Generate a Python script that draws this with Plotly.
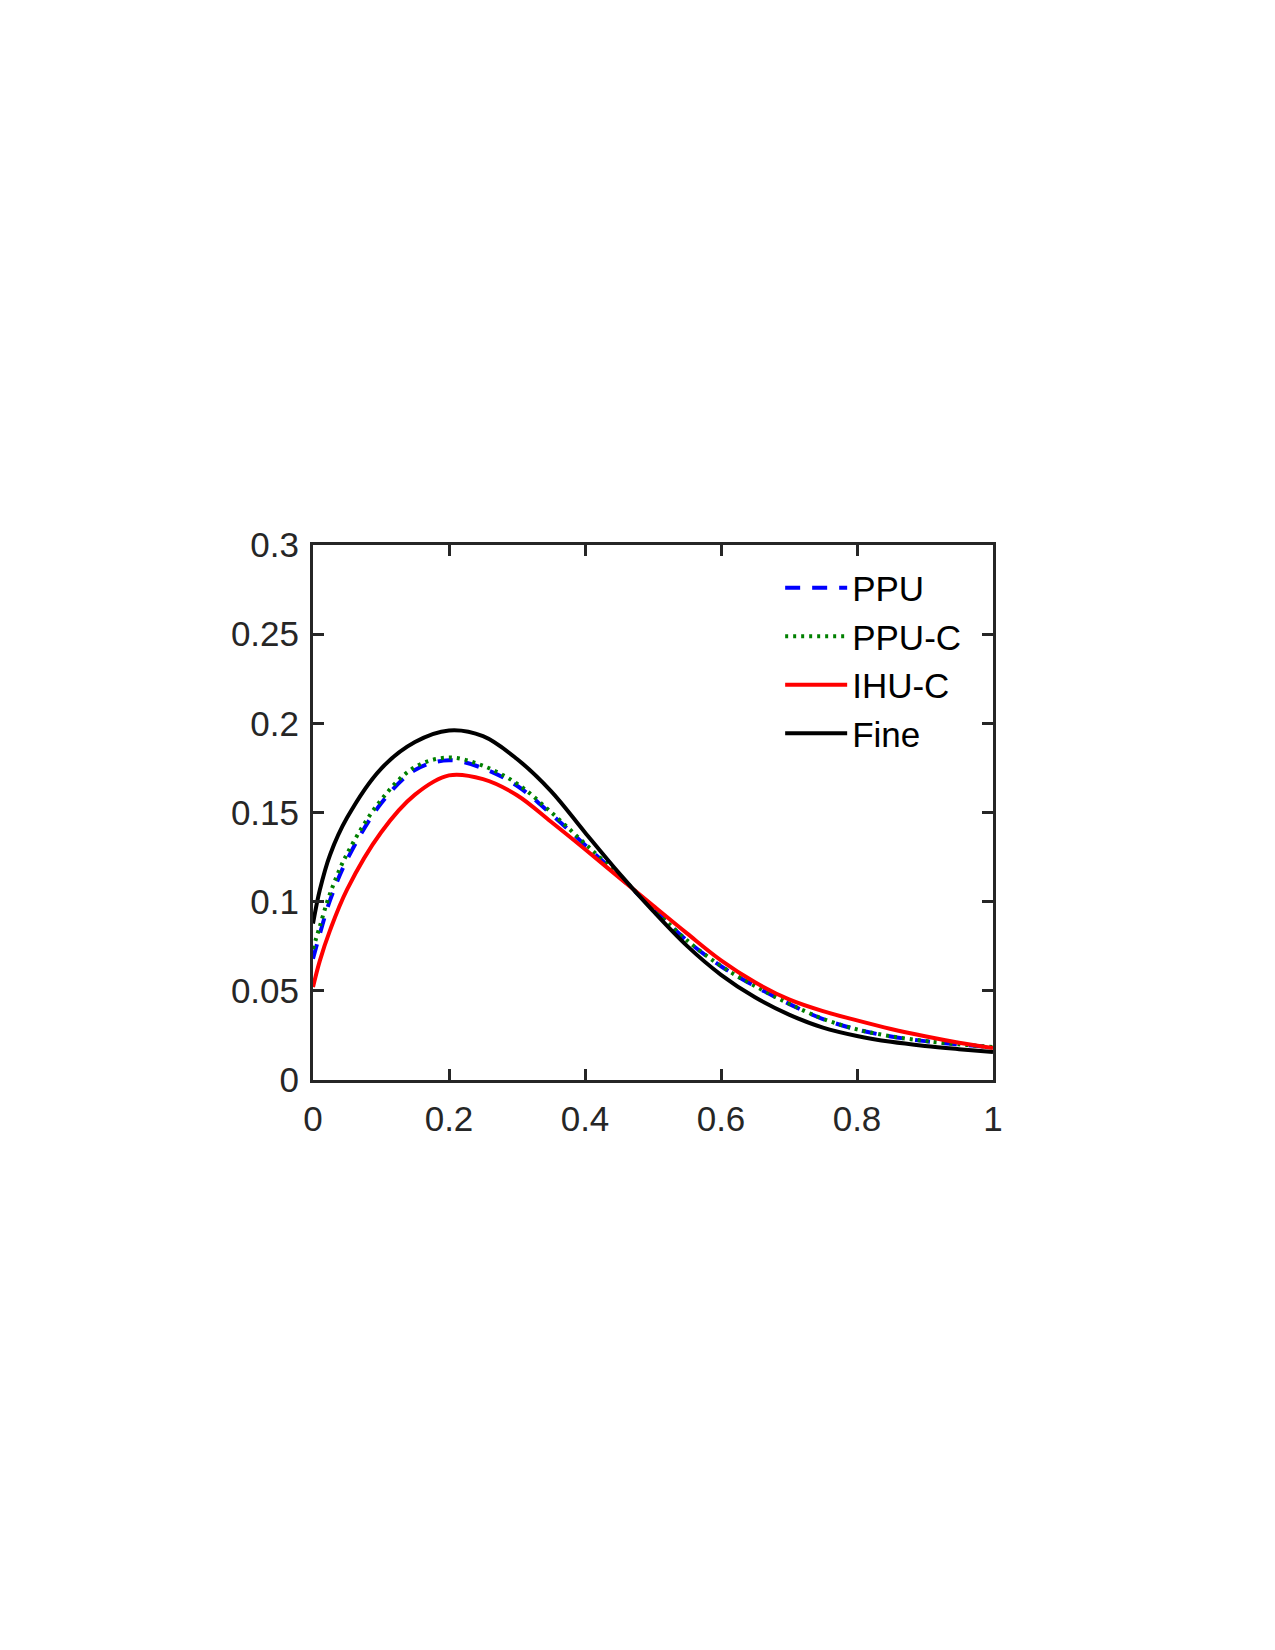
import plotly.graph_objects as go

x_vals = [0, 0.01, 0.025, 0.05, 0.1, 0.15, 0.2, 0.25, 0.3, 0.35, 0.4, 0.45, 0.5, 0.55, 0.6,
          0.65, 0.7, 0.75, 0.8, 0.85, 0.9, 0.95, 1.0]

fine_y = [0.0877, 0.1065, 0.1262, 0.1470, 0.1745, 0.1895, 0.1960, 0.1928, 0.1800, 0.1620, 0.1388,
          0.1160, 0.0948, 0.0752, 0.0590, 0.0464, 0.0367, 0.0294, 0.0247, 0.0214, 0.0191, 0.0173, 0.0157]

ppu_y = [0.0680, 0.0818, 0.1007, 0.1235, 0.1550, 0.1738, 0.1793, 0.1748, 0.1650, 0.1492, 0.1318,
         0.1143, 0.0962, 0.0782, 0.0638, 0.0526, 0.0427, 0.0342, 0.0283, 0.0244, 0.0218, 0.0199, 0.0184]

ppuc_y = [0.0735, 0.0862, 0.1045, 0.1268, 0.1570, 0.1755, 0.1808, 0.1762, 0.1662, 0.1502, 0.1325,
          0.1148, 0.0964, 0.0783, 0.0639, 0.0527, 0.0428, 0.0343, 0.0284, 0.0245, 0.0219, 0.0200, 0.0185]

ihuc_y = [0.0521, 0.0668, 0.0839, 0.1068, 0.1388, 0.1600, 0.1708, 0.1687, 0.1597, 0.1448, 0.1294,
          0.1136, 0.0978, 0.0822, 0.0671, 0.0548, 0.0452, 0.0386, 0.0334, 0.0286, 0.0245, 0.0209, 0.0179]

x_ticks = [0, 0.2, 0.4, 0.6, 0.8, 1]
x_labels = ["0", "0.2", "0.4", "0.6", "0.8", "1"]
y_ticks = [0, 0.05, 0.1, 0.15, 0.2, 0.25, 0.3]
y_labels = ["0", "0.05", "0.1", "0.15", "0.2", "0.25", "0.3"]

FONT = "Liberation Sans, Arial, Helvetica, sans-serif"
AX = "#262626"
LW = 4
SM = 1.0

fig = go.Figure()
fig.add_trace(go.Scatter(x=x_vals, y=ppu_y, mode="lines", name="PPU",
                         line=dict(color="rgb(0,0,255)", width=LW, dash="15px,12px", shape="spline", smoothing=SM)))
fig.add_trace(go.Scatter(x=x_vals, y=ppuc_y, mode="lines", name="PPU-C",
                         line=dict(color="rgb(0,128,0)", width=LW, dash="3px,5px", shape="spline", smoothing=SM)))
fig.add_trace(go.Scatter(x=x_vals, y=ihuc_y, mode="lines", name="IHU-C",
                         line=dict(color="rgb(255,0,0)", width=LW, shape="spline", smoothing=SM)))
fig.add_trace(go.Scatter(x=x_vals, y=fine_y, mode="lines", name="Fine",
                         line=dict(color="black", width=LW, shape="spline", smoothing=SM)))

axis_common = dict(showgrid=False, zeroline=False, showline=True, linecolor=AX, linewidth=3,
                   mirror="ticks", ticks="inside", ticklen=11, tickwidth=3, tickcolor=AX,
                   tickfont=dict(family=FONT, size=35, color=AX))

fig.update_xaxes(range=[0, 1], tickvals=x_ticks, ticktext=x_labels, ticklabelstandoff=6, **axis_common)
fig.update_yaxes(range=[0, 0.3], tickvals=y_ticks, ticktext=y_labels, ticklabelstandoff=4, **axis_common)

fig.update_layout(
    width=1275, height=1650,
    margin=dict(l=313, r=282, t=545, b=570),
    paper_bgcolor="white", plot_bgcolor="white",
    showlegend=True,
    legend=dict(x=0.687, y=0.975, xanchor="left", yanchor="top",
                bgcolor="rgba(0,0,0,0)", borderwidth=0,
                font=dict(family=FONT, size=35, color="black"),
                itemwidth=62, tracegroupgap=0),
)

fig.write_html("out.html")
